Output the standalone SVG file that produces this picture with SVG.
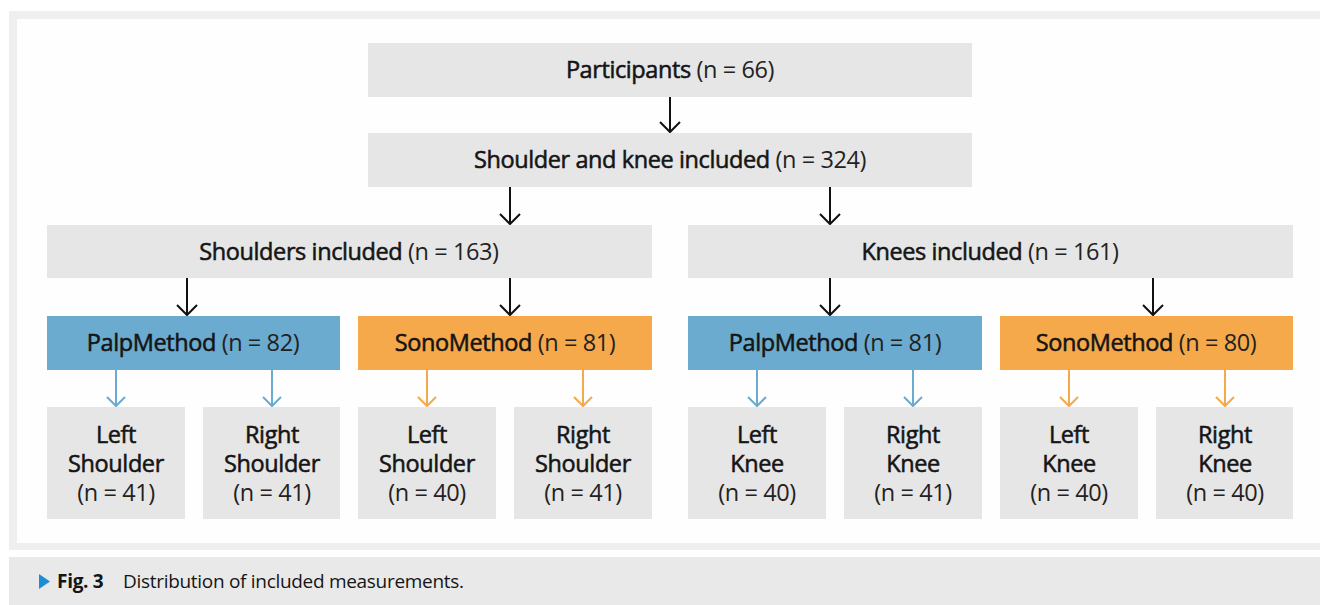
<svg xmlns="http://www.w3.org/2000/svg" width="1320" height="605" viewBox="0 0 1320 605">
<defs>
<style>
.g{fill:#e6e6e6}
.b{fill:#6aabcf}
.o{fill:#f5a94b}
text{font-family:"Open Sans","Liberation Sans",sans-serif;font-size:23.5px;font-weight:400;fill:#151515;stroke:#151515;stroke-width:0.55px;text-anchor:middle;letter-spacing:-0.4px}
.n{stroke:none;fill:#222}
.k{stroke:#111;stroke-width:2;fill:none}
.bl{stroke:#6aabcf;stroke-width:2;fill:none}
.or{stroke:#f5a94b;stroke-width:2;fill:none}
.cap{text-anchor:start;font-size:19px;letter-spacing:-0.3px;stroke:none}
</style>
</defs>
<rect x="9" y="11" width="1320" height="539" fill="#efefef"/>
<rect x="17" y="19" width="1310" height="524" fill="#fefefe"/>
<rect x="9" y="557" width="1320" height="48" fill="#e9e9e9"/>
<g id="caption">
<polygon points="39,574 50,581.5 39,589" fill="#1a8fd6"/>
<text class="cap" x="57" y="588" style="font-weight:700">Fig. 3</text>
<text class="cap" x="123" y="588">Distribution of included measurements.</text>
</g>
<g id="connectors">
<path class="k" d="M670 97V132M660 122L670 132L680 122"/>
<path class="k" d="M510 187V224M500 214L510 224L520 214"/>
<path class="k" d="M830 187V224M820 214L830 224L840 214"/>
<path class="k" d="M187 278V315M177 305L187 315L197 305"/>
<path class="k" d="M510 278V315M500 305L510 315L520 305"/>
<path class="k" d="M830 278V315M820 305L830 315L840 305"/>
<path class="k" d="M1153 278V315M1143 305L1153 315L1163 305"/>
<path class="bl" d="M116 370V406M107 397L116 406L125 397"/>
<path class="bl" d="M272 370V406M263 397L272 406L281 397"/>
<path class="or" d="M427 370V406M418 397L427 406L436 397"/>
<path class="or" d="M583 370V406M574 397L583 406L592 397"/>
<path class="bl" d="M757 370V406M748 397L757 406L766 397"/>
<path class="bl" d="M913 370V406M904 397L913 406L922 397"/>
<path class="or" d="M1069 370V406M1060 397L1069 406L1078 397"/>
<path class="or" d="M1225 370V406M1216 397L1225 406L1234 397"/>
</g>
<g id="participants"><rect class="g" x="368" y="43" width="604" height="54"/><text x="670" y="78">Participants <tspan class="n">(n = 66)</tspan></text></g>
<g id="included"><rect class="g" x="368" y="133" width="604" height="54"/><text x="670" y="168">Shoulder and knee included <tspan class="n">(n = 324)</tspan></text></g>
<g id="shoulders"><rect class="g" x="47" y="225" width="605" height="53"/><text x="349" y="260">Shoulders included <tspan class="n">(n = 163)</tspan></text></g>
<g id="knees"><rect class="g" x="688" y="225" width="605" height="53"/><text x="990" y="260">Knees included <tspan class="n">(n = 161)</tspan></text></g>
<g id="palp-s"><rect class="b" x="47" y="316" width="293" height="54"/><text x="193" y="351">PalpMethod <tspan class="n">(n = 82)</tspan></text></g>
<g id="sono-s"><rect class="o" x="358" y="316" width="294" height="54"/><text x="505" y="351">SonoMethod <tspan class="n">(n = 81)</tspan></text></g>
<g id="palp-k"><rect class="b" x="688" y="316" width="294" height="54"/><text x="835" y="351">PalpMethod <tspan class="n">(n = 81)</tspan></text></g>
<g id="sono-k"><rect class="o" x="1000" y="316" width="293" height="54"/><text x="1146" y="351">SonoMethod <tspan class="n">(n = 80)</tspan></text></g>
<g id="ls1"><rect class="g" x="47" y="407" width="138" height="112"/><text x="116" y="443">Left</text><text x="116" y="472">Shoulder</text><text class="n" x="116" y="501">(n = 41)</text></g>
<g id="rs1"><rect class="g" x="203" y="407" width="137" height="112"/><text x="272" y="443">Right</text><text x="272" y="472">Shoulder</text><text class="n" x="272" y="501">(n = 41)</text></g>
<g id="ls2"><rect class="g" x="358" y="407" width="138" height="112"/><text x="427" y="443">Left</text><text x="427" y="472">Shoulder</text><text class="n" x="427" y="501">(n = 40)</text></g>
<g id="rs2"><rect class="g" x="514" y="407" width="138" height="112"/><text x="583" y="443">Right</text><text x="583" y="472">Shoulder</text><text class="n" x="583" y="501">(n = 41)</text></g>
<g id="lk1"><rect class="g" x="688" y="407" width="138" height="112"/><text x="757" y="443">Left</text><text x="757" y="472">Knee</text><text class="n" x="757" y="501">(n = 40)</text></g>
<g id="rk1"><rect class="g" x="844" y="407" width="138" height="112"/><text x="913" y="443">Right</text><text x="913" y="472">Knee</text><text class="n" x="913" y="501">(n = 41)</text></g>
<g id="lk2"><rect class="g" x="1000" y="407" width="138" height="112"/><text x="1069" y="443">Left</text><text x="1069" y="472">Knee</text><text class="n" x="1069" y="501">(n = 40)</text></g>
<g id="rk2"><rect class="g" x="1156" y="407" width="137" height="112"/><text x="1225" y="443">Right</text><text x="1225" y="472">Knee</text><text class="n" x="1225" y="501">(n = 40)</text></g>
</svg>
